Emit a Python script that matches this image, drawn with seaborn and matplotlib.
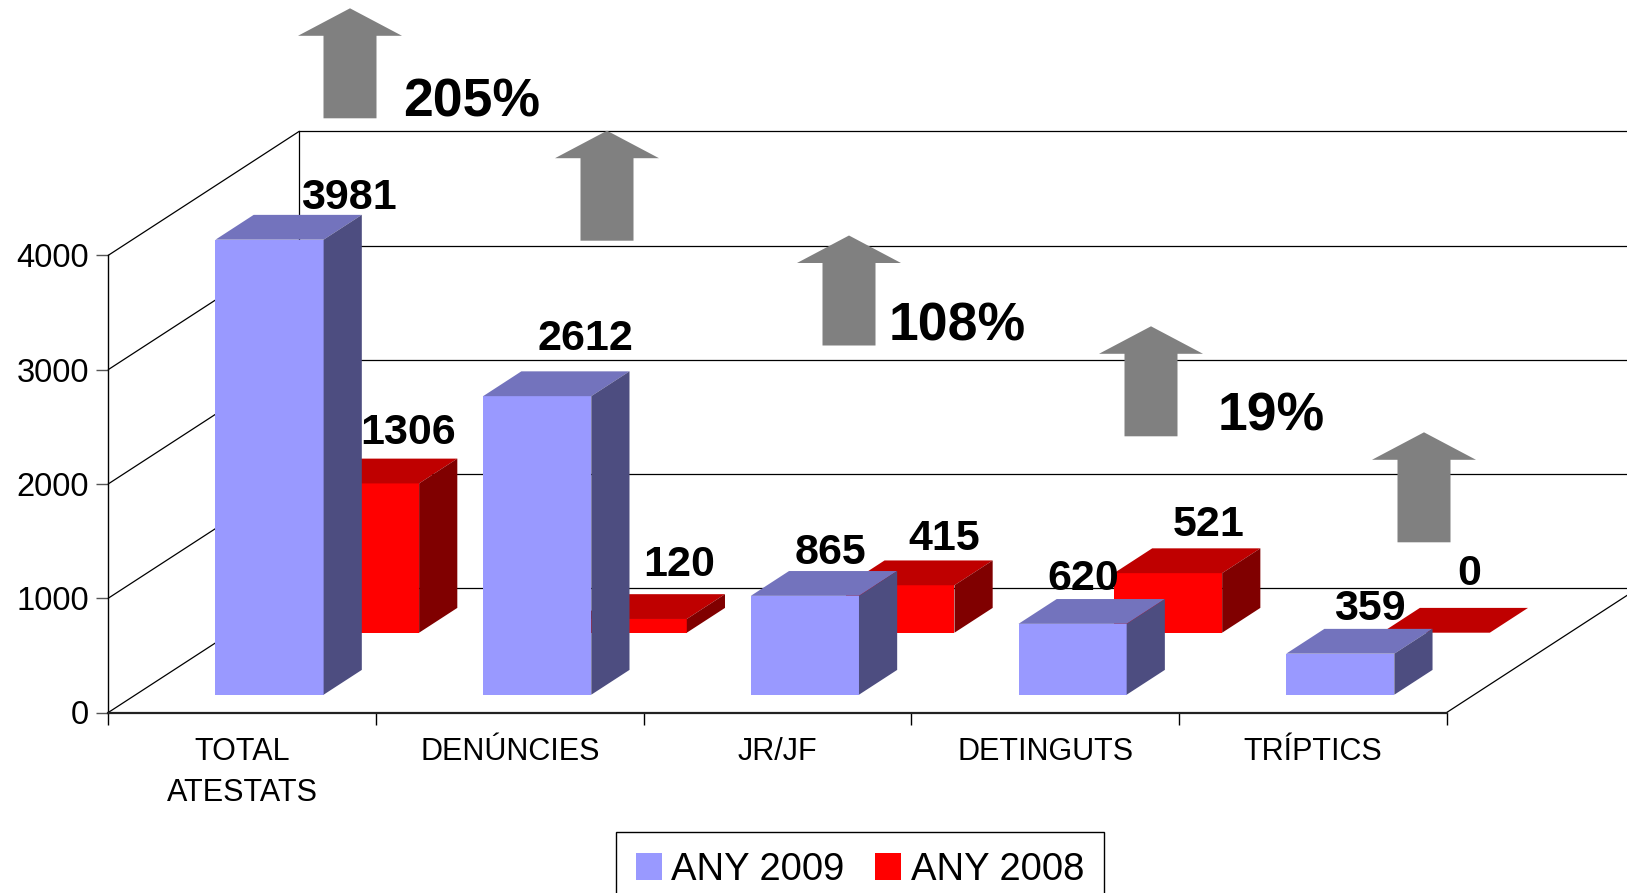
import matplotlib
matplotlib.use("Agg")
import matplotlib.pyplot as plt
import pandas as pd
import seaborn as sns
from matplotlib.patches import FancyArrow, Patch, Polygon

# data
categories = ["TOTAL\nATESTATS", "DENÚNCIES", "JR/JF", "DETINGUTS", "TRÍPTICS"]
any_2009 = [3981, 2612, 865, 620, 359]
any_2008 = [1306, 120, 415, 521, 0]
y_ticks = [0, 1000, 2000, 3000, 4000]
pct_shown = [0, 2, 3]  # categories that get a "% increase" label

sns.set_style("white")
plt.rcParams["font.family"] = ["Liberation Sans", "DejaVu Sans"]
plt.rcParams["text.color"] = "black"
plt.rcParams["xtick.labelcolor"] = "black"
plt.rcParams["ytick.labelcolor"] = "black"

W, H = 1627, 893
fig = plt.figure(figsize=(W / 100, H / 100), dpi=100)
# axes = front plane of the 3d box
ax = fig.add_axes([108.3 / W, 1 - 712.5 / H, (1446.7 - 108.3) / W, (712.5 - 255.3) / H])
ax.patch.set_alpha(0)

# oblique projection: offset of the whole box depth, in data units
DX, DY = 0.7135, 1085.0
BAR_DEPTH = 0.2


def proj(x, y, d):
    return x + DX * d, y + DY * d


styles = {
    "ANY 2009": dict(front="#9999FF", top="#7373BD", side="#4D4D80", d0=0.1435, z=3),
    "ANY 2008": dict(front="#FF0000", top="#BF0000", side="#800000", d0=0.6435, z=2),
}
# small pixel nudges for the value labels (Excel places them a bit irregularly)
nudges = {
    "ANY 2009": [(60, 18), (29, 34), (6, 19), (-8, 21), (10, 21)],
    "ANY 2008": [(24, 27), (27, 31), (25, 23), (21, 25), (14, 35)],
}


def draw_series(vals, name):
    st = styles[name]
    df = pd.DataFrame({"cat": categories, "val": vals})
    n0 = len(ax.patches)
    sns.barplot(data=df, x="cat", y="val", color=st["front"], saturation=1,
                width=0.404, errorbar=None, ax=ax)
    bars = ax.patches[n0:]
    d0 = st["d0"]
    d1 = d0 + BAR_DEPTH
    for p, v, nd in zip(bars, vals, nudges[name]):
        x0, w, h = p.get_x(), p.get_width(), p.get_height()
        p.set_x(x0 + DX * d0)
        p.set_y(DY * d0)
        p.set_linewidth(0)
        p.set_zorder(st["z"])
        p.set_clip_on(False)
        top = [proj(x0, h, d0), proj(x0 + w, h, d0), proj(x0 + w, h, d1), proj(x0, h, d1)]
        side = [proj(x0 + w, 0, d0), proj(x0 + w, h, d0), proj(x0 + w, h, d1), proj(x0 + w, 0, d1)]
        for pts, c in [(top, st["top"]), (side, st["side"])]:
            ax.add_patch(Polygon(pts, closed=True, fc=c, ec="none",
                                 zorder=st["z"], clip_on=False))
        ax.annotate(f"{v}", xy=proj(x0 + w / 2, h, d0 + BAR_DEPTH / 2),
                    xytext=nd, textcoords="offset pixels", ha="center",
                    va="baseline", fontsize=31, fontweight="bold", zorder=10,
                    annotation_clip=False)


draw_series(any_2008, "ANY 2008")
draw_series(any_2009, "ANY 2009")

ax.set_xlim(-0.5, 4.5)
ax.set_ylim(0, 4000)
xl, xr = -0.5, 4.5

# walls: side wall diagonals, back wall gridlines, edges
line_kw = dict(color="black", lw=0.9, clip_on=False, zorder=1)
for v in y_ticks:
    ax.plot(*zip(proj(xl, v, 0), proj(xl, v, 1)), **line_kw)
    ax.plot(*zip(proj(xl, v, 1), proj(xr, v, 1)), **line_kw)
ax.plot(*zip(proj(xl, 0, 1), proj(xl, y_ticks[-1], 1)), **line_kw)
ax.plot(*zip(proj(xr, 0, 0), proj(xr, 0, 1)), **line_kw)

for s in ["top", "right"]:
    ax.spines[s].set_visible(False)
ax.spines["left"].set_color("black")
ax.spines["left"].set_linewidth(1.0)
ax.spines["bottom"].set_color("#222222")
ax.spines["bottom"].set_linewidth(1.6)

ax.set_yticks(y_ticks)
ax.set_xticks([i - 0.5 for i in range(len(categories) + 1)], labels=[])
ax.set_xticks(range(len(categories)), labels=categories, minor=True)
ax.tick_params(axis="y", left=True, length=8.4, width=1, color="#555555",
               pad=5.3, labelsize=23.5, direction="out")
ax.tick_params(axis="x", which="major", bottom=True, length=8.6, width=1,
               color="black", direction="out")
ax.tick_params(axis="x", which="minor", bottom=True, length=0, pad=18, labelsize=22)
for t in ax.get_xticklabels(minor=True):
    t.set_linespacing(1.45)
ax.set_xlabel("")
ax.set_ylabel("")

# grey "increase" arrows and percentage labels, in figure pixels
over = fig.add_axes([0, 0, 1, 1], zorder=5)
over.set_xlim(0, W)
over.set_ylim(H, 0)
over.axis("off")
arrow_x = [350, 607, 849, 1151, 1424]
arrow_top = [8.3, 130.7, 235.5, 326.3, 432.3]
for cx, ty in zip(arrow_x, arrow_top):
    over.add_patch(FancyArrow(cx, ty + 110, 0, -110, width=53, head_width=104,
                              head_length=27.5, length_includes_head=True,
                              fc="#808080", ec="none"))
pct_pos = {0: (403, 116.7), 2: (889, 340.7), 3: (1218, 430.7)}
for i in pct_shown:
    pct = round((any_2009[i] - any_2008[i]) / any_2008[i] * 100)
    px, py = pct_pos[i]
    over.text(px, py, f"{pct}%", fontsize=38.5, fontweight="bold",
              ha="left", va="baseline")

handles = [Patch(fc=styles[n]["front"], ec="none", label=n) for n in ["ANY 2009", "ANY 2008"]]
leg = fig.legend(handles=handles, loc="upper left",
                 bbox_to_anchor=(616 / W, 1 - 831.7 / H), ncol=2, fontsize=27.5,
                 frameon=True, fancybox=False, shadow=False, edgecolor="black",
                 framealpha=1, handlelength=0.68, handleheight=0.72,
                 handletextpad=0.25, columnspacing=0.8, borderpad=0.52,
                 borderaxespad=0)
leg.get_frame().set_linewidth(1.0)

fig.savefig("out.png", dpi=100)
